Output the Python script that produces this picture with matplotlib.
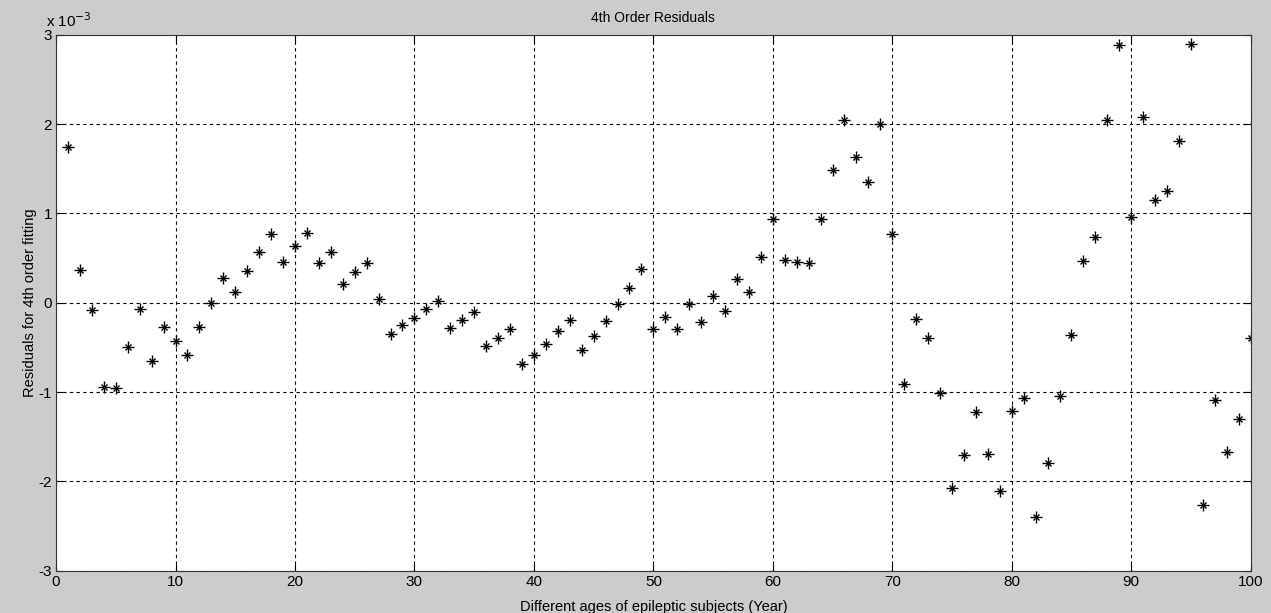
"""
residus de l ajustement polynomial d ordre 4 en fonction de l age
"""
import numpy as np
import matplotlib
matplotlib.use("Agg")
import matplotlib.pyplot as plt
from matplotlib.ticker import FuncFormatter

ages = np.arange(1, 101)
# residus en unites de 1e-3
residus_e3 = [
    1.745, 0.37, -0.08, -0.94, -0.95, -0.50, -0.07, -0.65, -0.27, -0.43,
    -0.58, -0.27, 0.00, 0.28, 0.12, 0.36, 0.57, 0.77, 0.46, 0.64,
    0.78, 0.44, 0.57, 0.21, 0.34, 0.44, 0.04, -0.35, -0.25, -0.17,
    -0.07, 0.02, -0.28, -0.19, -0.10, -0.49, -0.40, -0.30, -0.69, -0.58,
    -0.46, -0.32, -0.19, -0.53, -0.37, -0.20, -0.02, 0.17, 0.38, -0.29,
    -0.16, -0.29, -0.02, -0.22, 0.07, -0.09, 0.26, 0.12, 0.51, 0.94,
    0.48, 0.45, 0.44, 0.94, 1.49, 2.04, 1.63, 1.35, 2.00, 0.77,
    -0.91, -0.18, -0.40, -1.01, -2.07, -1.71, -1.22, -1.69, -2.11, -1.21,
    -1.07, -2.40, -1.79, -1.04, -0.36, 0.47, 0.74, 2.04, 2.89, 0.96,
    2.08, 1.15, 1.25, 1.81, 2.90, -2.27, -1.09, -1.67, -1.30, -0.40,
]
residus = np.array(residus_e3) * 1e-3

x_ticks = np.arange(0, 101, 10)
y_ticks = np.arange(-3, 4) * 1e-3

plt.rcParams['font.family'] = ['Liberation Sans', 'DejaVu Sans']
fig = plt.figure(figsize=(12.71, 6.13), dpi=100, facecolor='#cccccc')
ax = fig.add_axes([0.0441, 0.069, 0.9399, 0.8744])
ax.set_facecolor('white')

# marqueur '*' facon matlab : un + superpose a un x
ax.plot(ages, residus, linestyle='none', marker='+', markersize=9,
        markeredgewidth=1.0, color='black')
ax.plot(ages, residus, linestyle='none', marker='x', markersize=4.5,
        markeredgewidth=1.0, color='black')

ax.set_xlim(0, 100)
ax.set_ylim(-3e-3, 3e-3)
ax.set_xticks(x_ticks)
ax.set_yticks(y_ticks)
ax.yaxis.set_major_formatter(FuncFormatter(lambda v, p: f"{v*1e3:g}"))
ax.grid(True, linestyle=(0, (3, 3)), color='black', linewidth=0.8)
ax.tick_params(direction='in', top=True, right=True, length=5,
               labelsize=11, pad=3)
for s in ax.spines.values():
    s.set_color('#333333')

ax.set_title('4th Order Residuals', fontsize=10, pad=9)
ax.set_xlabel('Different ages of epileptic subjects (Year)', fontsize=10.5, labelpad=8)
ax.set_ylabel('Residuals for 4th order fitting', fontsize=10.5, labelpad=1)
ax.text(-0.008, 1.008, r'x 10$^{-3}$', transform=ax.transAxes, fontsize=11,
        ha='left', va='bottom')

fig.savefig('out.png', dpi=100, facecolor=fig.get_facecolor())
